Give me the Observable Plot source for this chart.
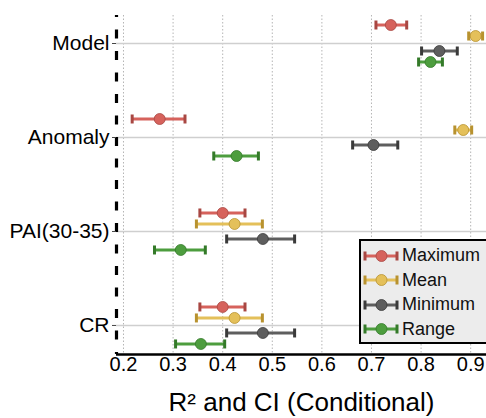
<!DOCTYPE html>
<html>
<head>
<meta charset="utf-8">
<script src="https://cdn.jsdelivr.net/npm/d3@7"></script>
<script src="https://cdn.jsdelivr.net/npm/@observablehq/plot@0.6"></script>
<style>
  html, body { margin: 0; padding: 0; background: white; }
  #wrap { position: relative; width: 486px; height: 418px; overflow: hidden; font-family: "Liberation Sans", Arial, sans-serif; }
  #wrap g[aria-label="x-axis label"] text { font-size: 26px !important; }
  #wrap g[aria-label="x-axis tick label"] text { font-size: 20px !important; }
  #wrap g[aria-label="y-axis tick label"] text { font-size: 21px !important; }
  #legend { position: absolute; left: 359px; top: 239px; width: 126px; height: 101px; border: 2px solid #000; background: #ececec; }
  #legend .row { position: absolute; left: 0; height: 24.5px; display: flex; align-items: center; font-size: 18px; color: #111; }
  #legend svg { display: block; margin-left: 2px; margin-right: 3px; }
</style>
</head>
<body>
<div id="wrap"></div>
<script>
// ---- data ----
const categories = ["Model", "Anomaly", "PAI(30-35)", "CR"];
const series = ["Maximum", "Mean", "Minimum", "Range"];
const seriesColors = ["#d6625c", "#e4c05a", "#5e5e5e", "#4d9d3e"];
const seriesEdges = ["#a84742", "#b8922f", "#3a3a3a", "#347a29"];
const xTicks = [0.2, 0.3, 0.4, 0.5, 0.6, 0.7, 0.8, 0.9];

const maxEst = [0.739, 0.273, 0.400, 0.400];
const maxLo  = [0.709, 0.2175, 0.354, 0.354];
const maxHi  = [0.771, 0.324, 0.445, 0.445];
const meanEst = [0.910, 0.885, 0.424, 0.424];
const meanLo  = [0.896, 0.868, 0.347, 0.347];
const meanHi  = [0.924, 0.902, 0.480, 0.480];
const minEst = [0.837, 0.704, 0.481, 0.481];
const minLo  = [0.801, 0.662, 0.408, 0.408];
const minHi  = [0.873, 0.753, 0.545, 0.545];
const rangeEst = [0.819, 0.428, 0.3155, 0.356];
const rangeLo  = [0.795, 0.382, 0.2625, 0.305];
const rangeHi  = [0.843, 0.472, 0.365, 0.404];

const seriesData = [
  [maxEst, maxLo, maxHi],
  [meanEst, meanLo, meanHi],
  [minEst, minLo, minHi],
  [rangeEst, rangeLo, rangeHi]
];
// vertical offset of each series within a category row (pixels, style only)
const seriesDy = [-18.5, -7.5, 7.5, 18.5];

const xDomain = [0.1859, 0.9319];
const yDomain = [-0.298, 3.309];

const rows = series.map((s, si) => categories.map((c, ci) => ({
  series: s, category: c,
  est: seriesData[si][0][ci], lo: seriesData[si][1][ci], hi: seriesData[si][2][ci]
})));

const yOf = d => categories.indexOf(d.category);

const capSymbol = {
  draw(ctx, size) {
    const r = Math.sqrt(size / Math.PI);
    ctx.moveTo(0, -r);
    ctx.lineTo(0, r);
  }
};

const marks = [
  Plot.gridX(xTicks, {stroke: "#b5b5b5", strokeOpacity: 1, strokeWidth: 1, strokeDasharray: "1.5,2"}),
  Plot.ruleY(categories.map((c, i) => i), {stroke: "#cfcfcf", strokeWidth: 1.5}),
];
series.forEach((s, si) => {
  const dy = seriesDy[si];
  marks.push(
    Plot.ruleY(rows[si], {y: yOf, x1: "lo", x2: "hi", dy, stroke: seriesColors[si], strokeWidth: 3}),
    Plot.dot(rows[si], {x: "lo", y: yOf, dy, symbol: capSymbol, r: 4.5, stroke: seriesEdges[si], strokeWidth: 3, fill: "none"}),
    Plot.dot(rows[si], {x: "hi", y: yOf, dy, symbol: capSymbol, r: 4.5, stroke: seriesEdges[si], strokeWidth: 3, fill: "none"}),
    Plot.dot(rows[si], {x: "est", y: yOf, dy, r: 5.5, fill: seriesColors[si], stroke: seriesEdges[si], strokeWidth: 0.8})
  );
});
marks.push(
  Plot.ruleY([yDomain[1]], {stroke: "#000", strokeWidth: 2.5}),
  Plot.ruleX([xDomain[0]], {stroke: "#000", strokeWidth: 3.2, strokeDasharray: "9,12.5", strokeDashoffset: 7}),
  Plot.axisY({ticks: [0, 1, 2, 3], tickFormat: i => categories[i], tickSize: 4, tickPadding: 3, fontSize: 21, label: null, stroke: "#444", color: "#000"}),
  Plot.axisX({ticks: xTicks, tickFormat: d3.format(".1f"), tickSize: 0, tickPadding: 2, dy: 0, fontSize: 20, label: null}),
  Plot.axisX({ticks: [], tickSize: 0, label: "R² and CI (Conditional)", labelAnchor: "center", labelOffset: 56, labelArrow: "none"})
);

const chart = Plot.plot({
  width: 486,
  height: 418,
  marginLeft: 116,
  marginRight: 0,
  marginTop: 15,
  marginBottom: 64,
  style: {fontFamily: "Liberation Sans, Arial, sans-serif", background: "white", color: "#000", overflow: "visible"},
  x: {domain: xDomain},
  y: {domain: yDomain, reverse: true},
  marks
});
const wrap = document.getElementById("wrap");
wrap.appendChild(chart);

// ---- legend ----
const legend = document.createElement("div");
legend.id = "legend";
series.forEach((s, si) => {
  const row = document.createElement("div");
  row.className = "row";
  row.style.top = (2.5 + 24.5 * si) + "px";
  const ns = "http://www.w3.org/2000/svg";
  const svg = document.createElementNS(ns, "svg");
  svg.setAttribute("width", 36); svg.setAttribute("height", 20);
  const line = document.createElementNS(ns, "line");
  line.setAttribute("x1", 2); line.setAttribute("x2", 34); line.setAttribute("y1", 10); line.setAttribute("y2", 10);
  line.setAttribute("stroke", seriesColors[si]); line.setAttribute("stroke-width", 3);
  svg.appendChild(line);
  [2, 34].forEach(cx => {
    const cap = document.createElementNS(ns, "line");
    cap.setAttribute("x1", cx); cap.setAttribute("x2", cx); cap.setAttribute("y1", 5.5); cap.setAttribute("y2", 14.5);
    cap.setAttribute("stroke", seriesEdges[si]); cap.setAttribute("stroke-width", 3);
    svg.appendChild(cap);
  });
  const dot = document.createElementNS(ns, "circle");
  dot.setAttribute("cx", 18.5); dot.setAttribute("cy", 10); dot.setAttribute("r", 5.5);
  dot.setAttribute("fill", seriesColors[si]); dot.setAttribute("stroke", seriesEdges[si]); dot.setAttribute("stroke-width", 0.8);
  svg.appendChild(dot);
  row.appendChild(svg);
  const label = document.createElement("span");
  label.textContent = s;
  row.appendChild(label);
  legend.appendChild(row);
});
wrap.appendChild(legend);
</script>
</body>
</html>
